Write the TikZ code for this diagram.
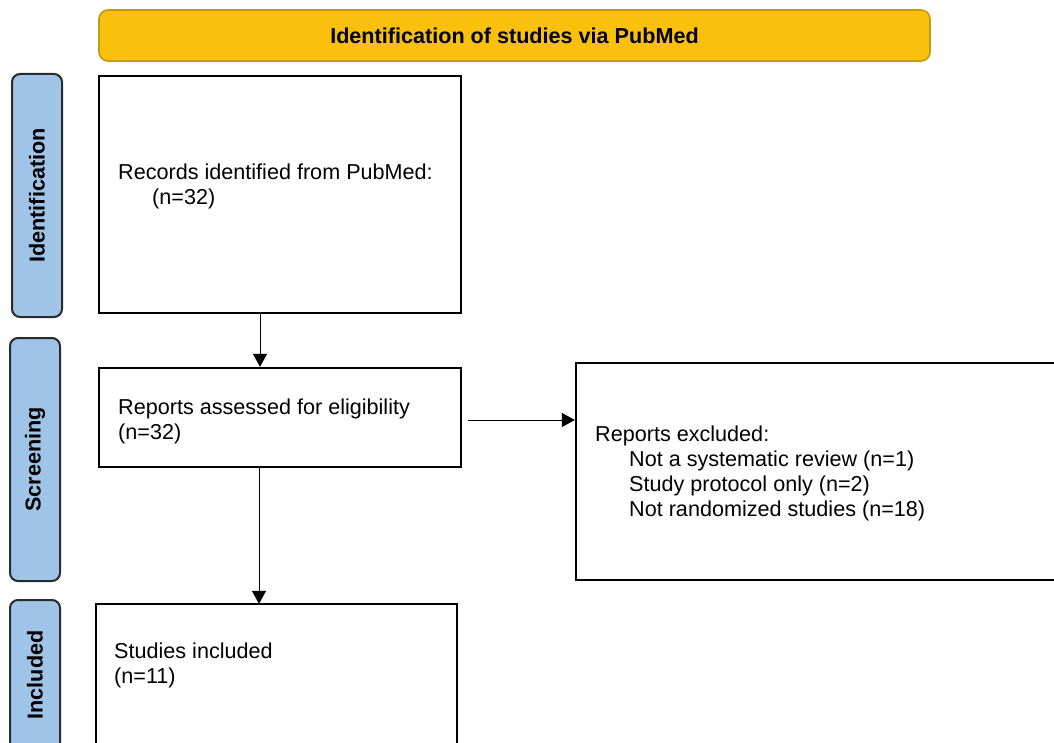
\documentclass[tikz,border=0pt]{standalone}
\usepackage{fontspec}
\setmainfont{Liberation Sans}
\usepackage{tikz}
\usetikzlibrary{positioning}
\usetikzlibrary{arrows.meta}
\definecolor{bannerColor}{HTML}{FBC00C}
\definecolor{bannerEdge}{HTML}{C39A12}
\definecolor{phaseColor}{HTML}{A0C4E7}
\definecolor{phaseEdge}{HTML}{2A2A2A}

\begin{document}
\begin{tikzpicture}[x=1pt,y=-1pt]

          \tikzstyle{banner} = [draw=bannerEdge, line width=1.6pt, fill=bannerColor, rounded corners=9pt, minimum width=831pt, minimum height=51pt, font=\fontsize{21.6}{25}\selectfont\bfseries];
          \tikzstyle{phase} = [draw=phaseEdge, line width=2pt, fill=phaseColor, rounded corners=8pt, minimum width=50pt];
          \tikzstyle{phaseText} = [rotate=90, font=\fontsize{21.6}{25}\selectfont\bfseries];
          \tikzstyle{box} = [draw, line width=2.3pt, inner sep=0pt];
          \tikzstyle{boxText} = [inner sep=0pt, align=left, font=\fontsize{21.6}{25}\selectfont];

          \tikzstyle{flow} = [line width=1pt, -{Triangle[length=13pt,width=14pt]}];

          \useasboundingbox (0,0) rectangle (1054,743);
          \clip (0,0) rectangle (1054,743);

          \node[banner] (head) at (514.5,35.5) {Identification of studies via PubMed};

          \node[phase, minimum height=243pt] (identification) at (37,195.5) {};
          \node[phase, minimum height=243pt] (screening) at (35,459.5) {};
          \node[phase, minimum height=170pt] (included) at (35,685) {};
          \node[phaseText] at (identification.center) {Identification};
          \node[phaseText] at (screening.center) {Screening};
          \node[phaseText] at ([yshift=10pt]included.center) {Included};

          \node[box, minimum width=362pt, minimum height=237pt] (records) at (280,194.5) {};
          \node[box, minimum width=362pt, minimum height=99pt] (reports) at (280,417.5) {};
          \node[box, minimum width=494pt, minimum height=217pt] (excluded) at (823,471.5) {};
          \node[box, minimum width=361pt, minimum height=156pt] (studies) at (276.5,682) {};

          \node[boxText, anchor=north west] (recordsText) at (118,164) {Records identified from PubMed:\\\hspace*{34pt}(n=32)};
          \node[boxText, anchor=north west] (reportsText) at (118,398.5) {Reports assessed for eligibility\\(n=32)};
          \node[boxText, anchor=north west] (excludedText) at (595,426) {Reports excluded:\\\hspace*{34pt}Not a systematic review (n=1)\\\hspace*{34pt}Study protocol only (n=2)\\\hspace*{34pt}Not randomized studies (n=18)};
          \node[boxText, anchor=north west] (studiesText) at (114,642.5) {Studies included\\(n=11)};

          \draw[flow] ([xshift=-20pt]records.south) -- ([xshift=-20pt]records.south |- reports.north);
          \draw[flow] ([xshift=-21pt]reports.south) -- ([xshift=-21pt,yshift=-1pt]reports.south |- studies.north);
          \draw[flow, shorten <=6pt] ([yshift=-2.5pt]reports.east) -- ([yshift=-2.5pt]reports.east -| excluded.west);
        \end{tikzpicture}
\end{document}
